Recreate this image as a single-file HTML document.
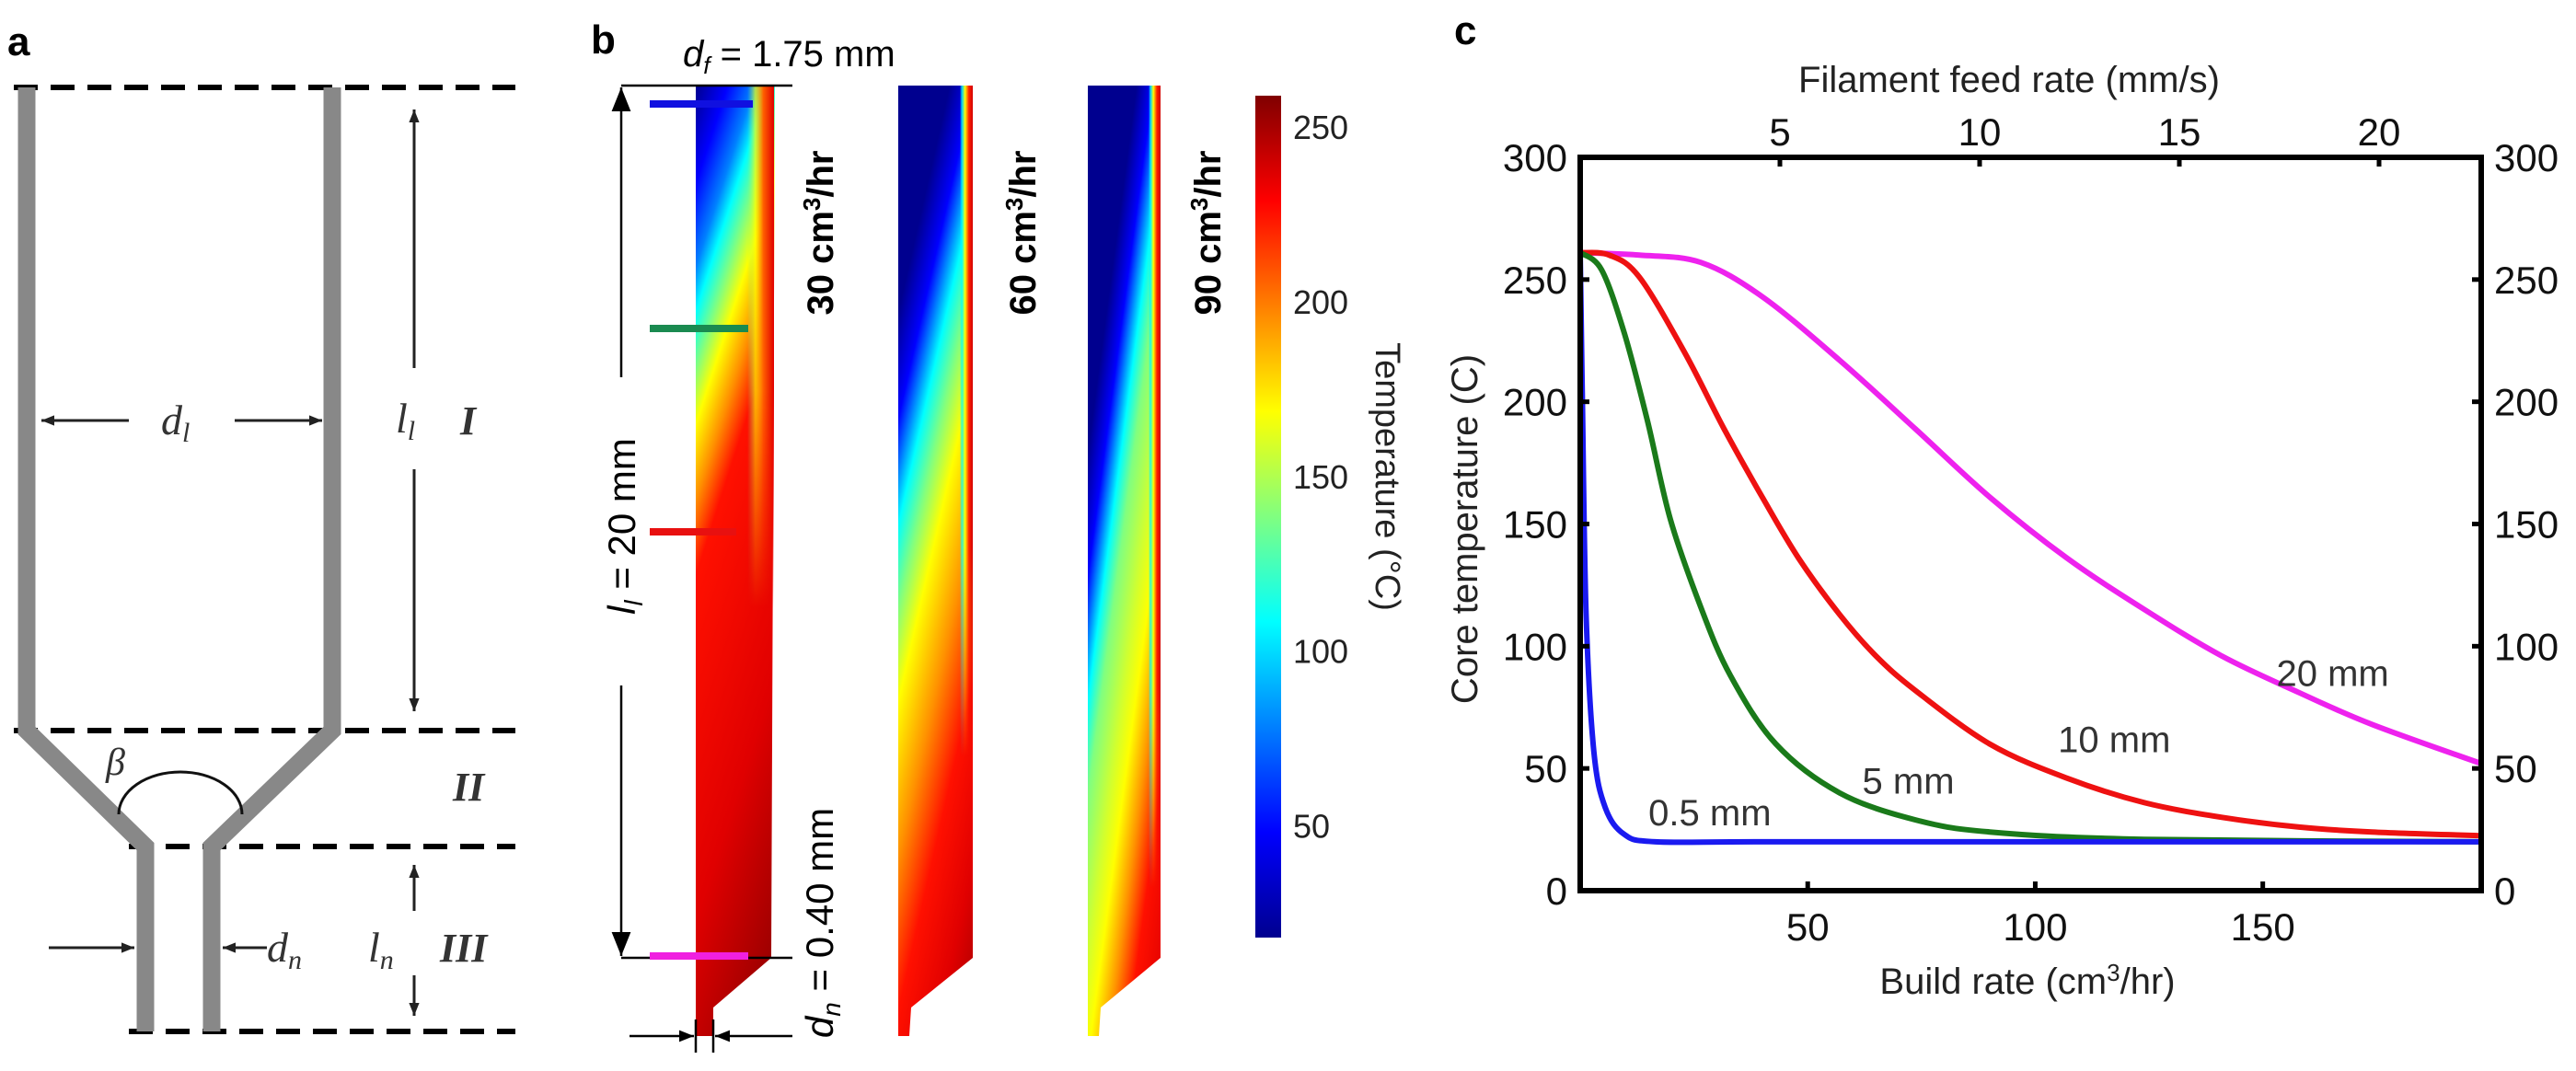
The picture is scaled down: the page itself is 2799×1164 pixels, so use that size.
<!DOCTYPE html>
<html><head><meta charset="utf-8"><style>
html,body{margin:0;padding:0;background:#fff;}
svg{display:block;}
.sans{font-family:"Liberation Sans",Arial,sans-serif;}
.ser{font-family:"Liberation Serif","Times New Roman",serif;font-style:italic;}
</style></head><body>
<svg id="fig" width="2799" height="1164" viewBox="0 0 2799 1164" xmlns="http://www.w3.org/2000/svg">
<defs id="defs">
<linearGradient id="jetV" x1="0" y1="1" x2="0" y2="0">
<stop offset="0" stop-color="#00008f"/><stop offset="0.125" stop-color="#0000ff"/><stop offset="0.375" stop-color="#00ffff"/><stop offset="0.5" stop-color="#80ff80"/><stop offset="0.625" stop-color="#ffff00"/><stop offset="0.875" stop-color="#ff0000"/><stop offset="1" stop-color="#800000"/>
</linearGradient>
<linearGradient id="wall" x1="0" y1="0" x2="1" y2="0">
<stop offset="0" stop-color="#00ffff" stop-opacity="0"/><stop offset="0.15" stop-color="#00ffff" stop-opacity="0.8"/><stop offset="0.4" stop-color="#ffff00" stop-opacity="1"/><stop offset="0.7" stop-color="#ff2000" stop-opacity="1"/><stop offset="1" stop-color="#d00000" stop-opacity="1"/>
</linearGradient>
<linearGradient id="wall1" x1="0" y1="0" x2="1" y2="0">
<stop offset="0" stop-color="#80ff80" stop-opacity="0"/><stop offset="0.3" stop-color="#ffff00" stop-opacity="0.7"/><stop offset="0.6" stop-color="#ff6000" stop-opacity="1"/><stop offset="1" stop-color="#e00000" stop-opacity="1"/>
</linearGradient>
<linearGradient id="fade" x1="0" y1="0" x2="0" y2="1">
<stop offset="0" stop-color="#fff" stop-opacity="1"/><stop offset="0.35" stop-color="#fff" stop-opacity="1"/><stop offset="0.6" stop-color="#fff" stop-opacity="0"/><stop offset="1" stop-color="#fff" stop-opacity="0"/>
</linearGradient>
<linearGradient id="fade2" x1="0" y1="0" x2="0" y2="1">
<stop offset="0" stop-color="#fff" stop-opacity="1"/><stop offset="0.53" stop-color="#fff" stop-opacity="1"/><stop offset="0.77" stop-color="#fff" stop-opacity="0"/><stop offset="1" stop-color="#fff" stop-opacity="0"/>
</linearGradient>
<linearGradient id="fade3" x1="0" y1="0" x2="0" y2="1">
<stop offset="0" stop-color="#fff" stop-opacity="1"/><stop offset="0.69" stop-color="#fff" stop-opacity="1"/><stop offset="0.92" stop-color="#fff" stop-opacity="0"/><stop offset="1" stop-color="#fff" stop-opacity="0"/>
</linearGradient>
<mask id="topMask"><rect x="700" y="93" width="200" height="948" fill="url(#fade)"/></mask>
<mask id="mask2"><rect x="1000" y="93" width="100" height="948" fill="url(#fade2)"/></mask>
<mask id="mask3"><rect x="1200" y="93" width="100" height="948" fill="url(#fade3)"/></mask>
<marker id="ah" viewBox="0 0 10 10" refX="10" refY="5" markerWidth="14" markerHeight="14" orient="auto-start-reverse" markerUnits="userSpaceOnUse"><path d="M0,1 L10,5 L0,9 Z" fill="#222"/></marker>
<marker id="ahB" viewBox="0 0 10 10" refX="10" refY="5" markerWidth="26" markerHeight="26" orient="auto-start-reverse" markerUnits="userSpaceOnUse"><path d="M0,1 L10,5 L0,9 Z" fill="#000"/></marker>
<marker id="ahS" viewBox="0 0 10 10" refX="10" refY="5" markerWidth="16" markerHeight="16" orient="auto-start-reverse" markerUnits="userSpaceOnUse"><path d="M0,1 L10,5 L0,9 Z" fill="#000"/></marker>
</defs>

<!-- Panel a -->
<g>
<text x="8" y="60" class="sans" font-size="44" font-weight="bold">a</text>
<g stroke="#000" stroke-width="6" stroke-dasharray="26 14">
<line x1="15" y1="95" x2="560" y2="95"/><line x1="15" y1="794" x2="560" y2="794"/><line x1="140" y1="920" x2="560" y2="920"/><line x1="140" y1="1121" x2="560" y2="1121"/>
</g>
<path d="M29,95 L29,794 L158,920 L158,1121 M361,95 L361,794 L230,920 L230,1121" fill="none" stroke="#888" stroke-width="19"/>
<g stroke="#222" stroke-width="3" fill="none">
<line x1="140" y1="457" x2="45" y2="457" marker-end="url(#ah)"/><line x1="255" y1="457" x2="350" y2="457" marker-end="url(#ah)"/>
<line x1="450" y1="400" x2="450" y2="119" marker-end="url(#ah)"/><line x1="450" y1="510" x2="450" y2="773" marker-end="url(#ah)"/>
<line x1="450" y1="990" x2="450" y2="940" marker-end="url(#ah)"/><line x1="450" y1="1060" x2="450" y2="1104" marker-end="url(#ah)"/>
<line x1="53" y1="1030" x2="146" y2="1030" marker-end="url(#ah)"/><line x1="290" y1="1030" x2="242" y2="1030" marker-end="url(#ah)"/>
<path d="M129,885 A67,46 0 0 1 263,885" stroke="#111" stroke-width="3"/>
</g>
<text x="175" y="472" class="ser" font-size="46" fill="#333">d<tspan font-size="30" dy="8">l</tspan></text>
<text x="430" y="470" class="ser" font-size="46" fill="#333">l<tspan font-size="30" dy="8">l</tspan></text>
<text x="500" y="472" class="ser" font-size="44" font-weight="bold" fill="#333">I</text>
<text x="115" y="842" class="ser" font-size="42" fill="#333">β</text>
<text x="492" y="870" class="ser" font-size="44" font-weight="bold" fill="#333">II</text>
<text x="290" y="1045" class="ser" font-size="46" fill="#333">d<tspan font-size="30" dy="8">n</tspan></text>
<text x="400" y="1045" class="ser" font-size="46" fill="#333">l<tspan font-size="30" dy="8">n</tspan></text>
<text x="478" y="1045" class="ser" font-size="44" font-weight="bold" fill="#333">III</text>
</g>

<!-- Panel b -->
<g>
<text x="642" y="58" class="sans" font-size="44" font-weight="bold">b</text>
<text x="742" y="72" class="sans" font-size="40"><tspan font-style="italic">d</tspan><tspan font-size="26" dy="8" font-style="italic">f</tspan><tspan dy="-8"> = 1.75 mm</tspan></text>
<path d="M756,93 L842,93 L838,1041 L775,1095 L775,1126 L756,1126 Z" fill="url(#h1)"/>
<path d="M976,93 L1057,93 L1057,1041 L990,1095 L988,1126 L976,1126 Z" fill="url(#h2)"/>
<path d="M1182,93 L1261,93 L1261,1041 L1196,1095 L1194,1126 L1182,1126 Z" fill="url(#h3)"/>
<rect x="812" y="93" width="29" height="948" fill="url(#wall1)" mask="url(#topMask)"/>
<rect x="1043" y="93" width="14" height="948" fill="url(#wall)" mask="url(#mask2)"/>
<rect x="1248" y="93" width="13" height="948" fill="url(#wall)" mask="url(#mask3)"/>
<g stroke="#000" stroke-width="2.5">
<line x1="675" y1="93" x2="861" y2="93"/><line x1="675" y1="1041" x2="861" y2="1041"/>
<line x1="675" y1="410" x2="675" y2="95" marker-end="url(#ahB)"/><line x1="675" y1="745" x2="675" y2="1039" marker-end="url(#ahB)"/>
<line x1="684" y1="1126" x2="754" y2="1126" marker-end="url(#ahS)"/><line x1="861" y1="1126" x2="777" y2="1126" marker-end="url(#ahS)"/>
<line x1="756" y1="1108" x2="756" y2="1144"/><line x1="775" y1="1108" x2="775" y2="1144"/>
</g>
<g stroke-width="8">
<line x1="706" y1="113" x2="818" y2="113" stroke="#1010e0"/>
<line x1="706" y1="357" x2="813" y2="357" stroke="#1a8a50"/>
<line x1="706" y1="578" x2="800" y2="578" stroke="#e81010"/>
<line x1="706" y1="1039" x2="813" y2="1039" stroke="#f020e0"/>
</g>
<text transform="translate(690,572) rotate(-90)" text-anchor="middle" class="sans" font-size="42"><tspan font-style="italic">l</tspan><tspan font-size="28" dy="8" font-style="italic">l</tspan><tspan dy="-8"> = 20 mm</tspan></text>
<text transform="translate(905,1003) rotate(-90)" text-anchor="middle" class="sans" font-size="42"><tspan font-style="italic">d</tspan><tspan font-size="28" dy="8" font-style="italic">n</tspan><tspan dy="-8"> = 0.40 mm</tspan></text>
<text transform="translate(905,253) rotate(-90)" text-anchor="middle" class="sans" font-size="40" font-weight="bold">30 cm<tspan font-size="26" dy="-14">3</tspan><tspan dy="14">/hr</tspan></text>
<text transform="translate(1125,253) rotate(-90)" text-anchor="middle" class="sans" font-size="40" font-weight="bold">60 cm<tspan font-size="26" dy="-14">3</tspan><tspan dy="14">/hr</tspan></text>
<text transform="translate(1326,253) rotate(-90)" text-anchor="middle" class="sans" font-size="40" font-weight="bold">90 cm<tspan font-size="26" dy="-14">3</tspan><tspan dy="14">/hr</tspan></text>
<rect x="1364" y="104" width="28" height="915" fill="url(#jetV)"/>
<g id="cbTicks"></g>
<text transform="translate(1495,518) rotate(90)" text-anchor="middle" class="sans" font-size="38" fill="#222">Temperature (°C)</text>
</g>

<!-- Panel c -->
<g>
<text x="1580" y="48" class="sans" font-size="44" font-weight="bold">c</text>
<g id="curves"></g>
<rect x="1717" y="171" width="979" height="797" fill="none" stroke="#000" stroke-width="6"/>
<g id="ticks"></g>
<g id="labels"></g>
<text x="2183" y="100" text-anchor="middle" class="sans" font-size="40" fill="#222">Filament feed rate (mm/s)</text>
<text x="2203" y="1080" text-anchor="middle" class="sans" font-size="40" fill="#222">Build rate (cm<tspan font-size="26" dy="-14">3</tspan><tspan dy="14">/hr)</tspan></text>
<text transform="translate(1605,575) rotate(-90)" text-anchor="middle" class="sans" font-size="40" fill="#222">Core temperature (C)</text>
</g>
</svg>
<script>
// chart data
const xTicks = [50, 100, 150];
const feedTicks = [5, 10, 15, 20];
const yTicks = [0, 50, 100, 150, 200, 250, 300];
const cbTickVals = [50, 100, 150, 200, 250];
const seriesNames = ["0.5 mm", "5 mm", "10 mm", "20 mm"];
const seriesColors = ["#1a1af0", "#1a7a1a", "#ee1111", "#ee22ee"];
const blueX = [0, 0.5, 1.3, 3, 5.5, 9.7, 16.5, 40, 100, 198];
const blueY = [261, 198, 113, 57, 34, 23, 20, 20, 20, 20];
const greenX = [0, 4.7, 9.7, 14.8, 19.8, 26.5, 33, 43, 57, 73.6, 90, 124, 198];
const greenY = [261, 254, 228, 192, 152, 116, 88, 60, 40, 29, 24, 21, 20];
const redX = [0, 6.4, 13, 23, 31.6, 40, 48, 57, 65, 73.6, 90, 107, 124, 141, 158, 174, 198];
const redY = [261, 260, 251, 220, 189, 161, 136, 113, 96, 82, 60, 46, 36, 30, 26, 24, 22.5];
const magX = [0, 13, 26.5, 40, 57, 73.6, 90, 107, 124, 141, 158, 174, 198];
const magY = [261, 260, 257, 243, 217, 189, 161, 136, 115, 96, 81, 68, 52];
const labelX = [15, 62, 105, 153];
const labelY = [32, 45, 62, 89];
// heatmap left-edge colour positions
const hm1Pos = [93, 200, 290, 339, 401, 462, 544, 626, 1000, 1310];
const hm1Col = ["#00008f","#0000ff","#0080ff","#00ffff","#80ff80","#ffff00","#ff9000","#ff1000","#e00000","#9a0000"];
const hm2Pos = [93, 339, 455, 571, 660, 763, 933, 1100, 1300, 1500];
const hm2Col = ["#00008f","#00008f","#0000ff","#00ffff","#80ff80","#ffff00","#ff9000","#ff1000","#e00000","#a00000"];
const hm3Pos = [93, 490, 626, 763, 865, 1036, 1150, 1300, 1450, 1700];
const hm3Col = ["#00008f","#00008f","#0000ff","#00ffff","#80ff80","#d0ff30","#ffff00","#ff9000","#ff1000","#e00000"];

const NS="http://www.w3.org/2000/svg";
function mk(tag, attrs, parent){const e=document.createElementNS(NS,tag);for(const k in attrs)e.setAttribute(k,attrs[k]);parent.appendChild(e);return e;}
const defs=document.getElementById('defs');
function heat(id,x0,k,pos,col){
  const yA=pos[0], L=pos[pos.length-1]-yA, s=L/(k*k+1);
  const g=mk('linearGradient',{id:id,gradientUnits:'userSpaceOnUse',x1:x0,y1:yA,x2:x0+k*s,y2:yA+s},defs);
  pos.forEach((p,i)=>mk('stop',{offset:((p-yA)/L).toFixed(4),'stop-color':col[i]},g));
}
heat('h1',756,3.1,hm1Pos,hm1Col);
heat('h2',976,4.4,hm2Pos,hm2Col);
heat('h3',1182,7.5,hm3Pos,hm3Col);

const X0=1717, X1=2696, Y0=968, Y1=171, XMAX=198, YMAX=300;
const xs = v => X0 + v/XMAX*(X1-X0);
const ys = v => Y0 - v/YMAX*(Y0-Y1);
const fs = v => X0 + v*43.4;
const cbs = v => 1019 - (v-18)/241*915;
function smooth(px,py){
  let d="M"+px[0]+","+py[0];
  for(let i=0;i<px.length-1;i++){
    const p0=[px[Math.max(i-1,0)],py[Math.max(i-1,0)]],p1=[px[i],py[i]],p2=[px[i+1],py[i+1]],p3=[px[Math.min(i+2,px.length-1)],py[Math.min(i+2,px.length-1)]];
    const c1=[p1[0]+(p2[0]-p0[0])/6,p1[1]+(p2[1]-p0[1])/6],c2=[p2[0]-(p3[0]-p1[0])/6,p2[1]-(p3[1]-p1[1])/6];
    d+=" C"+c1[0].toFixed(1)+","+c1[1].toFixed(1)+" "+c2[0].toFixed(1)+","+c2[1].toFixed(1)+" "+p2[0].toFixed(1)+","+p2[1].toFixed(1);
  }
  return d;
}
const curves=document.getElementById('curves');
const allX=[blueX,greenX,redX,magX], allY=[blueY,greenY,redY,magY];
[3,2,1,0].forEach(i=>{
  const p=mk('path',{d:smooth(allX[i].map(xs),allY[i].map(ys)),fill:'none',stroke:seriesColors[i],'stroke-width':6,'stroke-linejoin':'round'},curves);
  
  
});
const lab=document.getElementById('labels');
seriesNames.forEach((n,i)=>{
  const t=mk('text',{x:xs(labelX[i]),y:ys(labelY[i])+14,'class':'sans','font-size':40,fill:'#333'},lab);
  t.textContent=n;
  
  
});
const tk=document.getElementById('ticks');
xTicks.forEach(v=>{
  mk('line',{x1:xs(v),y1:Y0,x2:xs(v),y2:Y0-10,stroke:'#000','stroke-width':5},tk);
  const t=mk('text',{x:xs(v),y:1022,'text-anchor':'middle','class':'sans','font-size':42,fill:'#111'},tk);
  t.textContent=v;
  
  
});
feedTicks.forEach(v=>{
  mk('line',{x1:fs(v),y1:Y1,x2:fs(v),y2:Y1+10,stroke:'#000','stroke-width':5},tk);
  const t=mk('text',{x:fs(v),y:158,'text-anchor':'middle','class':'sans','font-size':42,fill:'#111'},tk);
  t.textContent=v;
  
  
});
yTicks.forEach(v=>{
  mk('line',{x1:X0,y1:ys(v),x2:X0+10,y2:ys(v),stroke:'#000','stroke-width':5},tk);
  mk('line',{x1:X1,y1:ys(v),x2:X1-10,y2:ys(v),stroke:'#000','stroke-width':5},tk);
  const t=mk('text',{x:1703,y:ys(v)+15,'text-anchor':'end','class':'sans','font-size':42,fill:'#111'},tk);
  t.textContent=v;
  
  
  const t2=mk('text',{x:2710,y:ys(v)+15,'class':'sans','font-size':42,fill:'#111'},tk);
  t2.textContent=v;
  
  
});
const cb=document.getElementById('cbTicks');
cbTickVals.forEach(v=>{
  const t=mk('text',{x:1405,y:cbs(v)+13,'class':'sans','font-size':36,fill:'#222'},cb);
  t.textContent=v;
  
  
});
</script>
</body></html>
